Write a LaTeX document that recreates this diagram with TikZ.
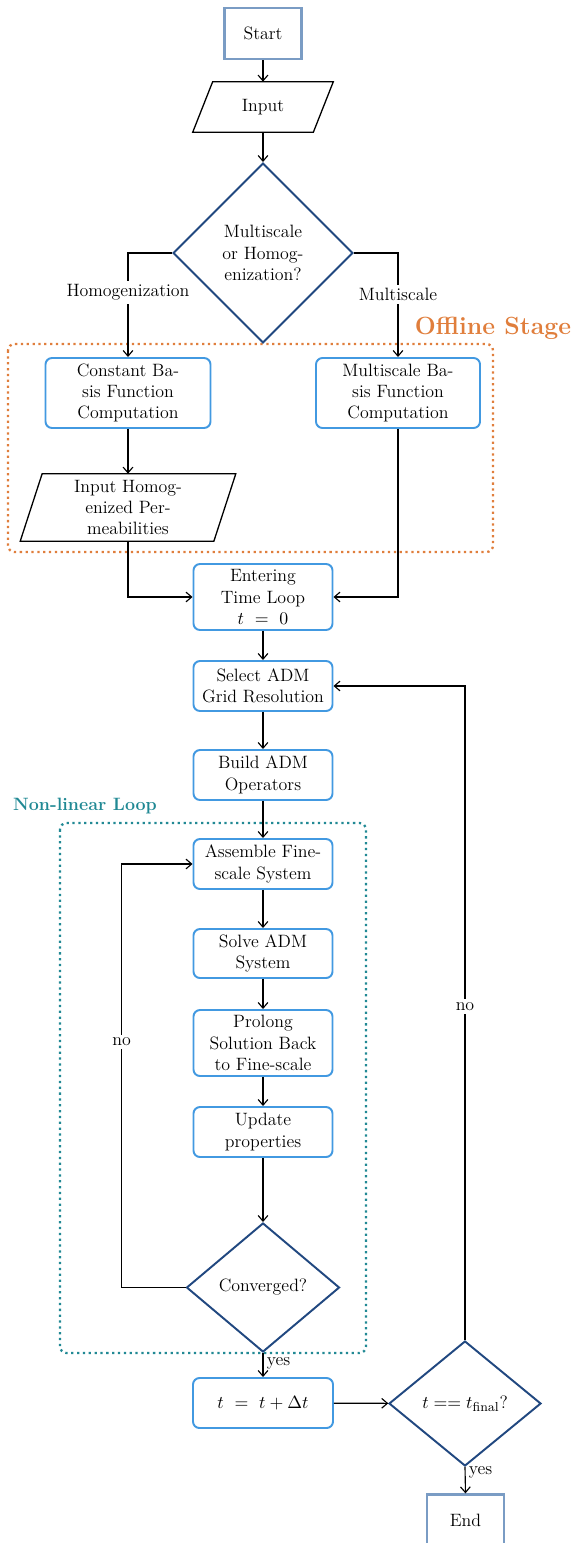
\documentclass[tikz,border=0pt]{standalone}
\usetikzlibrary{shapes.geometric,arrows.meta}
\newlength\pxl \setlength\pxl{0.616pt}
\definecolor{boxblue}{RGB}{66,153,225}
\definecolor{decblue}{RGB}{33,72,128}
\definecolor{termblue}{RGB}{122,156,196}
\definecolor{offorange}{RGB}{224,126,60}
\definecolor{nlteal}{RGB}{33,137,148}
\tikzset{
  txt/.style={font=\fontsize{11}{13.2}\selectfont, align=center, inner sep=0pt},
  box/.style={txt, draw=boxblue, line width=1.2pt, rounded corners=4pt, minimum width=139*\pxl, minimum height=50*\pxl},
  term/.style={txt, draw=termblue, line width=1.4pt, minimum width=77*\pxl, minimum height=51*\pxl},
  dec/.style={txt, diamond, draw=decblue, line width=1.2pt, aspect=1},
  io/.style={txt, minimum height=50*\pxl},
  arr/.style={-{Straight Barb[length=3.5pt,width=6pt]}, line width=0.7pt},
  lbl/.style={font=\fontsize{11}{13}\selectfont, fill=white, inner sep=2pt},
  side/.style={font=\fontsize{11}{13}\selectfont, inner sep=2pt},
  frame/.style={line width=1.4pt, dash pattern=on 1.4pt off 2.2pt, rounded corners=4pt}
}
\begin{document}
\begin{tikzpicture}[x=0.616pt,y=-0.616pt]
\useasboundingbox (0,0) rectangle (574,1543);

% frames
\draw[frame, draw=offorange] (8,344) rectangle (493,552);
\node[font=\fontsize{15.3}{18}\selectfont\bfseries, text=offorange, inner sep=0pt] (offl) at (493,328) {Offline Stage};
\draw[frame, draw=nlteal] (60,823) rectangle (366,1353);
\node[font=\fontsize{11}{13}\selectfont\bfseries, text=nlteal, inner sep=0pt] (nll) at (85,806) {Non-linear Loop};

% nodes
\node[term] (start) at (263,33.5) {Start};
\node[io, minimum width=120*\pxl] (inp) at (263,107) {Input};
\draw[line width=0.8pt] ([xshift=10*\pxl]inp.north west) -- ([xshift=10*\pxl]inp.north east)
  -- ([xshift=-10*\pxl]inp.south east) -- ([xshift=-10*\pxl]inp.south west) -- cycle;
\node[dec, minimum width=180*\pxl, minimum height=180*\pxl] (choice) at (263,253) {Multiscale\\or Homog-\\enization?};
\node[box, minimum width=165*\pxl, minimum height=70*\pxl] (cb) at (128,393) {Constant Ba-\\sis Function\\Computation};
\node[box, minimum width=164*\pxl, minimum height=70*\pxl] (mb) at (398,393) {Multiscale Ba-\\sis Function\\Computation};
\node[io, minimum width=193*\pxl, minimum height=67*\pxl] (ih) at (128,507.5) {Input Homog-\\enized Per-\\meabilities};
\draw[line width=0.8pt] ([xshift=11*\pxl]ih.north west) -- ([xshift=11*\pxl]ih.north east)
  -- ([xshift=-11*\pxl]ih.south east) -- ([xshift=-11*\pxl]ih.south west) -- cycle;
\node[box, minimum height=66*\pxl] (et) at (263,597) {Entering\\Time Loop\\$t\ =\ 0$};
\node[box] (sa) at (263,686) {Select ADM\\Grid Resolution};
\node[box] (bo) at (263,775) {Build ADM\\Operators};
\node[box] (as) at (263,864) {Assemble Fine-\\scale System};
\node[box, minimum height=49*\pxl] (so) at (263,953.5) {Solve ADM\\System};
\node[box, minimum height=66*\pxl] (pr) at (263,1043) {Prolong\\Solution Back\\to Fine-scale};
\node[box] (up) at (263,1132) {Update\\properties};
\node[dec, minimum width=153*\pxl, minimum height=129*\pxl] (cv) at (263,1287.5) {Converged?};
\node[box, minimum width=140*\pxl] (tt) at (263,1403) {$t\ =\ t+\Delta t$};
\node[dec, minimum width=152*\pxl, minimum height=125*\pxl] (tf) at (465,1403.5) {$t == t_{\mathrm{final}}$?};
\node[term] (end) at (465.5,1520) {End};

% connectors
\draw[arr] (start) -- (inp);
\draw[arr] (inp) -- (choice);
\draw[arr] (choice.west) -| node[lbl, pos=0.69] {Homogenization} (cb.north);
\draw[arr] (choice.east) -| node[lbl, pos=0.70] {Multiscale} (mb.north);
\draw[arr] (cb) -- (ih);
\draw[arr] (ih.south) |- (et.west);
\draw[arr] (mb.south) |- (et.east);
\draw[arr] (et) -- (sa);
\draw[arr] (sa) -- (bo);
\draw[arr] (bo) -- (as);
\draw[arr] (as) -- (so);
\draw[arr] (so) -- (pr);
\draw[arr] (pr) -- (up);
\draw[arr] (up) -- (cv);
\draw[arr] (cv.west) -- ++(-64,0) |- node[lbl, pos=0.29] {no} (as.west);
\draw[arr] (cv.south) -- node[side, right, pos=0.45] {yes} (tt.north);
\draw[arr] (tt) -- (tf);
\draw[arr] (tf.north) |- node[lbl, pos=0.255] {no} (sa.east);
\draw[arr] (tf.south) -- node[side, right, pos=0.2] {yes} (end.north);
\end{tikzpicture}
\end{document}
